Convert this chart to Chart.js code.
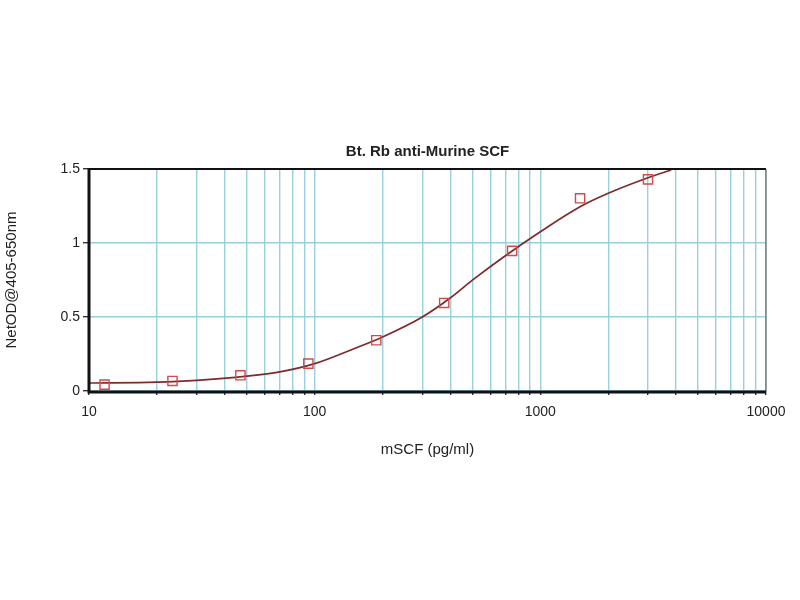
<!DOCTYPE html>
<html>
<head>
<meta charset="utf-8">
<script src="https://cdn.jsdelivr.net/npm/chart.js@4/dist/chart.umd.min.js"></script>
<style>
html,body{margin:0;padding:0;background:#fff;}
#wrap{width:800px;height:600px;}
</style>
</head>
<body>
<div id="wrap"><canvas id="c" width="800" height="600"></canvas></div>
<script>
// Measured standards
const concentrations = [11.72, 23.44, 46.88, 93.75, 187.5, 375, 750, 1500, 3000];
const odValues = [0.043, 0.068, 0.106, 0.185, 0.343, 0.595, 0.947, 1.302, 1.430];
// Fitted curve
const fitX = [10, 20, 30, 50, 70, 100, 150, 200, 300, 400, 500, 700, 1000, 1500, 2000, 3000, 3800];
const fitY = [0.054, 0.060, 0.072, 0.100, 0.129, 0.185, 0.287, 0.365, 0.500, 0.630, 0.749, 0.914, 1.076, 1.245, 1.336, 1.441, 1.493];
// Axis ticks
const xTickValues = [10,20,30,40,50,60,70,80,90,100,200,300,400,500,600,700,800,900,1000,2000,3000,4000,5000,6000,7000,8000,9000,10000];
const xTickLabels = {10:'10', 100:'100', 1000:'1000', 10000:'10000'};
const yTickValues = [0, 0.5, 1, 1.5];
const yTickLabels = ['0', '0.5', '1', '1.5'];

const chartTitle = 'Bt. Rb anti-Murine SCF';
const xTitle = 'mSCF (pg/ml)';
const yTitle = 'NetOD@405-650nm';

const gridColor = '#98d0dc';
const font = 'Liberation Sans, Arial, sans-serif';

const frame = {
  id: 'frame',
  afterDraw(chart) {
    const {ctx, chartArea: a} = chart;
    ctx.save();
    ctx.strokeStyle = '#111';
    ctx.lineWidth = 2;
    ctx.beginPath();
    ctx.moveTo(a.left, a.top); ctx.lineTo(a.right, a.top);
    ctx.stroke();
    ctx.strokeStyle = '#555';
    ctx.lineWidth = 1;
    ctx.beginPath();
    ctx.moveTo(a.right, a.top); ctx.lineTo(a.right, a.bottom);
    ctx.stroke();
    ctx.strokeStyle = '#111';
    ctx.lineWidth = 3;
    ctx.beginPath();
    ctx.moveTo(a.left, a.top - 1); ctx.lineTo(a.left, a.bottom + 1); ctx.lineTo(a.right, a.bottom + 1);
    ctx.stroke();
    ctx.restore();
  }
};

new Chart(document.getElementById('c'), {
  type: 'scatter',
  data: {
    datasets: [
      {
        label: 'fit',
        data: fitX.map((x, i) => ({x, y: fitY[i]})),
        showLine: true,
        borderColor: '#7d2b2b',
        borderWidth: 1.7,
        pointRadius: 0,
        cubicInterpolationMode: 'monotone',
        fill: false,
        order: 2
      },
      {
        label: 'standards',
        data: concentrations.map((x, i) => ({x, y: odValues[i]})),
        showLine: false,
        pointStyle: 'rect',
        pointRadius: 6.5,
        pointBorderColor: '#d24a4a',
        pointBackgroundColor: 'rgba(255,255,255,0)',
        pointBorderWidth: 1.4,
        order: 1
      }
    ]
  },
  options: {
    responsive: false,
    animation: false,
    devicePixelRatio: 1,
    layout: {padding: {left: 0, right: 34, top: 0, bottom: 130}},
    plugins: {
      legend: {display: false},
      tooltip: {enabled: false},
      title: {
        display: true,
        fullSize: false,
        text: chartTitle,
        color: '#222',
        font: {family: font, size: 15, weight: 'bold'},
        padding: {top: 143, bottom: 8}
      }
    },
    scales: {
      x: {
        type: 'logarithmic',
        min: 10,
        max: 10000,
        afterBuildTicks(scale) { scale.ticks = xTickValues.map(v => ({value: v})); },
        afterFit(scale) { scale.height = 79; },
        ticks: {
          autoSkip: false,
          maxRotation: 0,
          color: '#222',
          font: {family: font, size: 14},
          padding: 9,
          callback: (v) => xTickLabels[v] || ''
        },
        grid: {
          color: gridColor,
          lineWidth: 1.4,
          drawTicks: true,
          tickLength: 4,
          tickColor: '#333'
        },
        border: {display: false},
        title: {
          display: true,
          text: xTitle,
          color: '#222',
          font: {family: font, size: 15},
          padding: {top: 4, bottom: 11}
        }
      },
      y: {
        min: 0,
        max: 1.5,
        afterBuildTicks(scale) { scale.ticks = yTickValues.map(v => ({value: v})); },
        afterFit(scale) { scale.width = 89; },
        ticks: {
          color: '#222',
          font: {family: font, size: 14},
          padding: 3,
          callback: (v, i) => yTickLabels[i]
        },
        grid: {
          color: gridColor,
          lineWidth: 1.4,
          tickLength: 6,
          tickColor: '#333'
        },
        border: {display: false},
        title: {
          display: true,
          text: yTitle,
          color: '#222',
          font: {family: font, size: 15},
          padding: {top: 3, bottom: 4}
        }
      }
    }
  },
  plugins: [frame]
});
</script>
</body>
</html>
